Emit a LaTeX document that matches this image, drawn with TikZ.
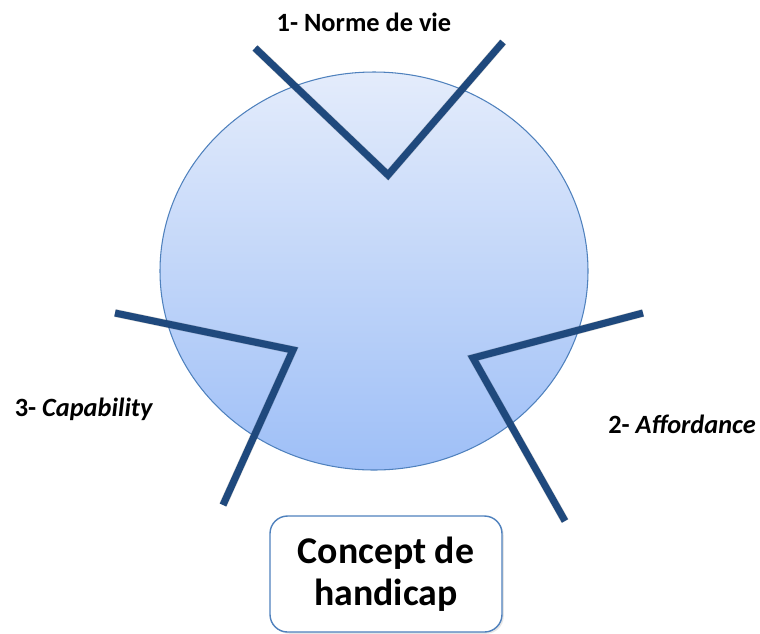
\documentclass[tikz,border=0pt]{standalone}
\usepackage{fontspec}
\setmainfont{Carlito}
\usetikzlibrary{shapes.geometric,shadows}

\definecolor{rimblue}{HTML}{4F81BD}
\definecolor{topblue}{HTML}{E4ECFB}
\definecolor{lowblue}{HTML}{9EBFF7}
\definecolor{barblue}{HTML}{1F497D}

\begin{document}
\begin{tikzpicture}[x=0.02cm,y=-0.02cm]

  \tikzstyle{disc}=[ellipse,draw=rimblue,line width=0.6pt,
    top color=topblue,bottom color=lowblue,
    minimum width=428*0.02cm,minimum height=398*0.02cm]

  \tikzstyle{bar}=[draw=barblue,line width=4pt,line join=miter]
  \tikzstyle{barshade}=[draw=black,opacity=0.18,line width=4.5pt,
    line join=miter,xshift=1.5pt,yshift=-1.5pt]

  \tikzstyle{lbl}=[font=\fontsize{15}{18}\selectfont\bfseries,inner sep=0pt]

  \tikzstyle{concept}=[rectangle,rounded corners=10pt,draw=rimblue,
    fill=white,line width=0.8pt,align=center,
    font=\fontsize{21.5}{24}\selectfont\bfseries,
    minimum width=232*0.02cm,minimum height=116*0.02cm,
    drop shadow={shadow xshift=1pt,shadow yshift=-1pt,opacity=0.2}]

  %% \draw [help lines] (0,0) grid (760,633);
  \useasboundingbox (0,0) rectangle (760,633);

  \node (disc) at (374,271) [disc] {};

  % three broken bars
  \coordinate (n1) at (255,48);
  \coordinate (n2) at (388,175);
  \coordinate (n3) at (503,42);

  \coordinate (c1) at (115,313);
  \coordinate (c2) at (293,350);
  \coordinate (c3) at (223,505);

  \coordinate (a1) at (643,313);
  \coordinate (a2) at (473,358);
  \coordinate (a3) at (565,521);

  \foreach \p/\q/\r in {n1/n2/n3,c1/c2/c3,a1/a2/a3} {
    \draw [barshade] (\p) -- (\q) -- (\r);
    \draw [bar] (\p) -- (\q) -- (\r);
  }

  \node (norme) at (364,22)  [lbl] {1- Norme de vie};
  \node (capa)  at (84,409)  [lbl] {3- \textit{Capability}};
  \node (affo)  at (682,424) [lbl] {2- \textit{Affordance}};

  \node (hand)  at (386,574) [concept] {Concept de\\handicap};

\end{tikzpicture}
\end{document}
